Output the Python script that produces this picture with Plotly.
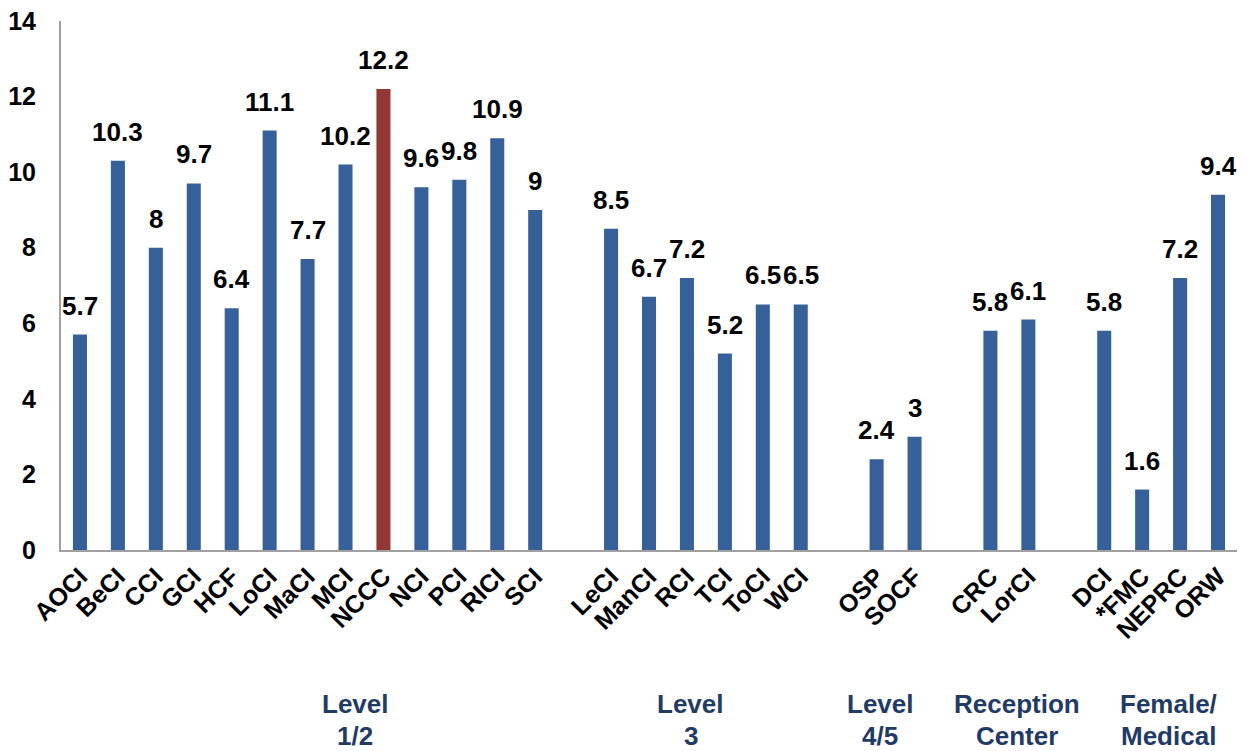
import plotly.graph_objects as go

categories = ["AOCI", "BeCI", "CCI", "GCI", "HCF", "LoCI", "MaCI", "MCI", "NCCC", "NCI", "PCI", "RICI", "SCI",
              "LeCI", "ManCI", "RCI", "TCI", "ToCI", "WCI",
              "OSP", "SOCF",
              "CRC", "LorCI",
              "DCI", "*FMC", "NEPRC", "ORW"]
values = [5.7, 10.3, 8, 9.7, 6.4, 11.1, 7.7, 10.2, 12.2, 9.6, 9.8, 10.9, 9,
          8.5, 6.7, 7.2, 5.2, 6.5, 6.5,
          2.4, 3,
          5.8, 6.1,
          5.8, 1.6, 7.2, 9.4]
group_sizes = [13, 6, 2, 2, 4]
group_line1 = ["Level", "Level", "Level", "Reception", "Female/"]
group_line2 = ["1/2", "3", "4/5", "Center", "Medical"]
group_label_x = [7.25, 16.1, 21.1, 24.7, 28.7]
highlight = "NCCC"

# slot positions with one empty slot between groups
xpos = []
pos = 0
for gi, n in enumerate(group_sizes):
    for _ in range(n):
        xpos.append(pos)
        pos += 1
    pos += 1

BLUE = "#36609A"
RED = "#953735"
colors = [RED if c == highlight else BLUE for c in categories]

fig = go.Figure()
fig.add_trace(go.Bar(
    x=xpos, y=values, width=0.37,
    marker=dict(color=colors, line=dict(width=0)),
    hoverinfo="skip",
))

FONT = "Liberation Sans, Arial, sans-serif"
for x, v in zip(xpos, values):
    fig.add_annotation(x=x, y=v, text=f"{v:g}", showarrow=False,
                       xref="x", yref="y", yanchor="bottom", yshift=12,
                       font=dict(family=FONT, size=26, color="black", weight="bold"))

for gx, l1, l2 in zip(group_label_x, group_line1, group_line2):
    fig.add_annotation(x=gx, y=-0.292, text=l1, showarrow=False, xref="x", yref="paper",
                       yanchor="middle", font=dict(family=FONT, size=26, color="#1F3B66", weight="bold"))
    fig.add_annotation(x=gx, y=-0.351, text=l2, showarrow=False, xref="x", yref="paper",
                       yanchor="middle", font=dict(family=FONT, size=26, color="#1F3B66", weight="bold"))

fig.update_layout(
    width=1243, height=751,
    margin=dict(l=61, r=6, t=21, b=201),
    plot_bgcolor="white", paper_bgcolor="white",
    showlegend=False,
    font=dict(family=FONT, color="black"),
    xaxis=dict(
        range=[-0.5, 30.5], tickvals=xpos, ticktext=categories, tickangle=-45,
        tickfont=dict(family=FONT, size=25, color="black", weight="bold"),
        showgrid=False, zeroline=False, showline=True, linecolor="#A0A0A0", linewidth=2,
        ticks="", fixedrange=True,
    ),
    yaxis=dict(
        range=[0, 14], tickvals=[0, 2, 4, 6, 8, 10, 12, 14],
        tickfont=dict(family=FONT, size=25, color="black", weight="bold"),
        showgrid=False, zeroline=False, showline=True, linecolor="#A0A0A0", linewidth=2,
        ticks="", ticklabelstandoff=18,
    ),
)

fig.write_html("out.html")
